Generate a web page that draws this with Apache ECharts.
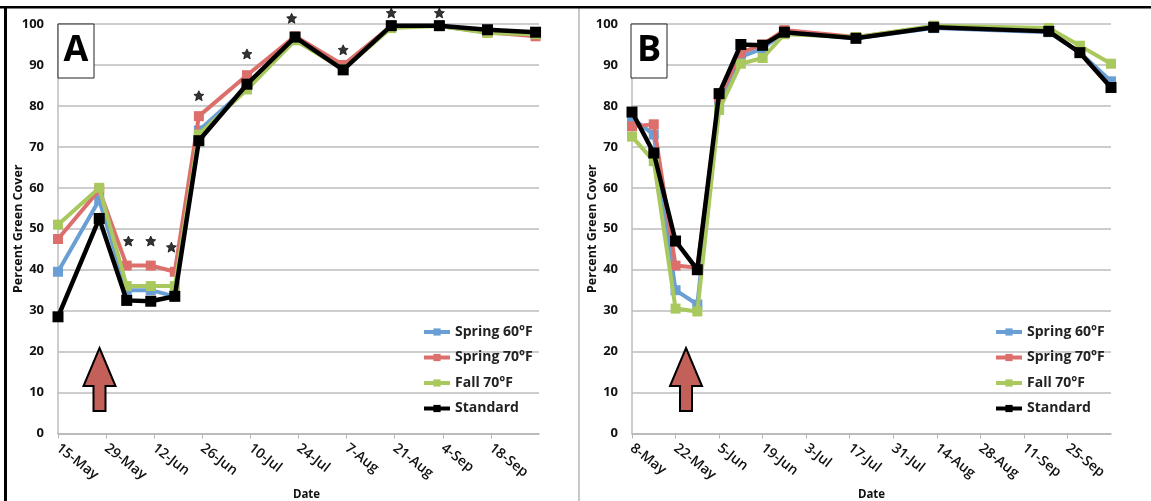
<!DOCTYPE html>
<html><head><meta charset="utf-8">
<style>html,body{margin:0;padding:0;background:#fff}#c{width:1151px;height:501px;filter:blur(0.5px)}</style>
<script src="https://cdn.jsdelivr.net/npm/echarts@6/dist/echarts.min.js"></script>
</head><body><div id="c"></div>
<script>
const seriesNames = ['Spring 60°F','Spring 70°F','Fall 70°F','Standard'];
const colors = ['#6a9fd6','#dc6f6b','#a9c95f','#000000'];

const ticksA = ['15-May','29-May','12-Jun','26-Jun','10-Jul','24-Jul','7-Aug','21-Aug','4-Sep','18-Sep'];
const daysA = [0,12,20,27,34,41,55,69,83,97,111,125,139];
const spring60A = [39.5,57,35,35,33.5,74,84.5,96.5,89,99.5,99.5,98,97.5];
const spring70A = [47.5,59.5,41,41,39.5,77.5,87.5,97,90,99.5,99.5,98,97];
const fall70A   = [51,60,36,36,36,73,84,96,89,99,99.5,97.8,97.5];
const standardA = [28.5,52.5,32.5,32.3,33.5,71.5,85.3,96.8,88.8,99.6,99.6,98.6,98];
const starDaysA = [20.5,27,33,41,55,68,83,97,111];
const starValsA = [47,47,45.5,82.5,92.7,101.4,93.7,102.7,102.7];

const ticksB = ['8-May','22-May','5-Jun','19-Jun','3-Jul','17-Jul','31-Jul','14-Aug','28-Aug','11-Sep','25-Sep'];
const daysB = [0,7,14,21,28,35,42,49,72,97,134,144,154];
const spring60B = [77,73,35,31.5,80,92,94,98,96.5,99,98,93,86];
const spring70B = [75,75.5,41,40.5,82,93,95,98.5,96.8,99.3,98.3,93,84.5];
const fall70B   = [72.5,66.5,30.5,29.8,79,90.3,91.7,97.5,96.8,99.6,99,94.7,90.3];
const standardB = [78.5,68.5,47,40,83,95,94.8,98,96.5,99.2,98.2,93,84.5];

const font = '"Open Sans","DejaVu Sans",sans-serif';
const zip = (a,b)=>a.map((v,i)=>[v,b[i]]);
function lines(days, arrs, idx){
  return arrs.map((vals,i)=>({
    name:seriesNames[i], type:'line', xAxisIndex:idx, yAxisIndex:idx, data:zip(days,vals),
    symbol:'rect', symbolSize:i===3?11:10, showAllSymbol:true, clip:false, z:2+i,
    lineStyle:{color:colors[i],width:i===3?4.5:4,join:'miter'}, itemStyle:{color:colors[i]},
    emphasis:{disabled:true}, animation:false
  }));
}
function xAxis(idx,ticks,max,namePad){
  return {type:'value',gridIndex:idx,min:0,max:max,interval:14,splitLine:{show:false},
    axisLine:{show:true,lineStyle:{color:'#b5b5b5',width:1.5}},
    axisTick:{show:true,length:5,lineStyle:{color:'#b5b5b5',width:1}},
    axisLabel:{rotate:-38,margin:13,color:'#111',fontFamily:font,fontWeight:600,fontSize:14,hideOverlap:false,
      showMinLabel:true,showMaxLabel:false,formatter:v=>ticks[Math.round(v/14)]||''},
    name:'Date',nameLocation:'middle',nameGap:54,nameTextStyle:{color:'#111',fontFamily:font,fontWeight:700,fontSize:11.5,padding:[0,0,0,namePad]}};
}
function yAxis(idx){
  return {type:'value',gridIndex:idx,min:0,max:100,interval:10,
    splitLine:{show:true,lineStyle:{color:'#bcbcbc',width:1.5}},
    axisLine:{show:true,onZero:false,lineStyle:{color:'#bcbcbc',width:1.5}},axisTick:{show:false},
    axisLabel:{margin:14,color:'#111',fontFamily:font,fontWeight:700,fontSize:13},
    name:'Percent Green Cover',nameLocation:'middle',nameGap:33,nameRotate:90,nameMoveOverlap:false,
    nameTextStyle:{color:'#111',fontFamily:font,fontWeight:700,fontSize:12.5}};
}
function legend(left){
  return {left:left,top:323.5,orient:'vertical',padding:0,itemWidth:26,itemHeight:9,itemGap:8.5,data:seriesNames,selectedMode:false,
    lineStyle:{width:4},
    textStyle:{color:'#222',fontFamily:font,fontWeight:700,fontSize:14,lineHeight:17}};
}
function box(x,letter){
  return [{type:'rect',shape:{x:x,y:24,width:36,height:54},style:{fill:'#fff',stroke:'#222',lineWidth:1},z:20},
    {type:'text',x:x+18,y:51,style:{text:letter,fill:'#000',font:'700 36px "Open Sans",sans-serif',align:'center',verticalAlign:'middle'},z:21}];
}
function arrow(cx){
  return {type:'polygon',shape:{points:[[cx,348],[cx+16,386],[cx+6,386],[cx+6,411],[cx-6,411],[cx-6,386],[cx-16,386]]},
    style:{fill:'#c4605a',stroke:'#000',lineWidth:2},z:20};
}
const stars = {name:'sig',type:'scatter',xAxisIndex:0,yAxisIndex:0,data:zip(starDaysA,starValsA),symbol:'path://M50 0L66 32L100 36L74 59L83 96L50 78L17 96L26 59L0 36L34 32Z',symbolSize:10,clip:false,
  itemStyle:{color:'#000',borderColor:'#000',borderWidth:0.8},z:10,silent:true,animation:false};

const chart = echarts.init(document.getElementById('c'),null,{renderer:'canvas'});
chart.setOption({
  animation:false,backgroundColor:'#fff',
  grid:[{left:58,top:24,width:481,height:409.5,outerBoundsMode:'none'},{left:632,top:24,width:479,height:409.5,outerBoundsMode:'none'}],
  xAxis:[xAxis(0,ticksA,140,16),xAxis(1,ticksB,154,0)],
  yAxis:[yAxis(0),yAxis(1)],
  legend:[legend(422),legend(994)],
  series:[...lines(daysA,[spring60A,spring70A,fall70A,standardA],0),stars,...lines(daysB,[spring60B,spring70B,fall70B,standardB],1)],
  graphic:[
    {type:'rect',shape:{x:0,y:6,width:1151,height:2.5},style:{fill:'#000'},z:30},
    {type:'rect',shape:{x:4,y:6,width:3,height:495},style:{fill:'#000'},z:30},
    {type:'rect',shape:{x:578,y:8,width:2,height:493},style:{fill:'#c8c8c8'},z:1},
    ...box(58,'A'),...box(631,'B'),arrow(99.5),arrow(686)
  ]
});
</script></body></html>
